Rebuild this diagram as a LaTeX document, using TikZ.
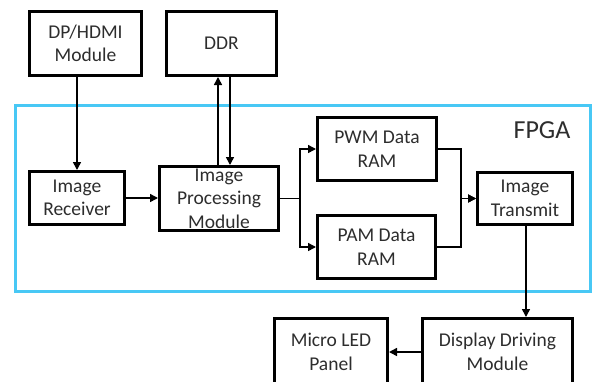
\documentclass[tikz,border=0pt]{standalone}
\usepackage{fontspec}
\setmainfont{Carlito}
\usepackage{xcolor}
\usepackage{tikz}
\usetikzlibrary{arrows.meta}
\definecolor{fpgablue}{RGB}{72,200,245}
\definecolor{txtgray}{RGB}{45,45,45}

\begin{document}
\begin{tikzpicture}[>={Triangle[length=8pt,width=8pt]}, x=1pt, y=-1pt,
    block/.style={draw, line width=3pt, rectangle, align=center, inner sep=0pt,
      text=txtgray, font=\fontsize{19.5}{23.5}\selectfont},
    link/.style={line width=1.5pt, ->}]

                  \clip (0,0) rectangle (592,381);

                  % outside the FPGA
                  \draw (85.5,43.5) node[block, minimum width=112, minimum height=64] (DP) {DP/HDMI\\Module};
                  \draw (221.5,43.5) node[block, minimum width=110, minimum height=64] (DDR) {DDR};

                  % FPGA frame
                  \draw[fpgablue, line width=3pt] (15,105) rectangle (590,291);
                  \draw (542,130) node[text=txtgray, font=\fontsize{26}{30}\selectfont] (FPGA) {FPGA};

                  \draw (77,198) node[block, minimum width=95, minimum height=53] (REC) {Image\\Receiver};
                  \draw (219,198.5) node[block, minimum width=119, minimum height=64] (IPM) {Image\\Processing\\Module};
                  \draw (377,149) node[block, minimum width=119, minimum height=63] (PWM) {PWM Data\\RAM};
                  \draw (376.5,247) node[block, minimum width=118, minimum height=63] (PAM) {PAM Data\\RAM};
                  \draw (525,198.5) node[block, minimum width=95, minimum height=52] (TX) {Image\\Transmit};

                  % below the FPGA
                  \draw (497.5,352) node[block, minimum width=150, minimum height=67] (DDM) {Display Driving\\Module};
                  \draw (331,352) node[block, minimum width=113, minimum height=67] (LED) {Micro LED\\Panel};

                  \coordinate (split) at (300,198.5);
                  \coordinate (merge) at (461,198.5);

                  \draw [link] (DP.south -| REC.north) -- (REC.north);
                  \draw [link] ([xshift=-1pt]IPM.north) -- ([xshift=-1pt]IPM.north |- DDR.south);
                  \draw [link] ([xshift=11pt]IPM.north |- DDR.south) -- ([xshift=11pt]IPM.north);
                  \draw [link] (REC.east) -- (REC.east -| IPM.west);
                  \draw [link] (IPM.east) -- (split) |- (PWM.west);
                  \draw [link] (split) |- (PAM.west);
                  \draw [link] (PWM.east) -| (merge) -- (TX.west);
                  \draw [link] (PAM.east) -| (merge) -- (TX.west);
                  \draw [link] ([xshift=1pt]TX.south) -- ([xshift=1pt]TX.south |- DDM.north);
                  \draw [link] (DDM.west) -- (LED.east);

                \end{tikzpicture}
\end{document}
